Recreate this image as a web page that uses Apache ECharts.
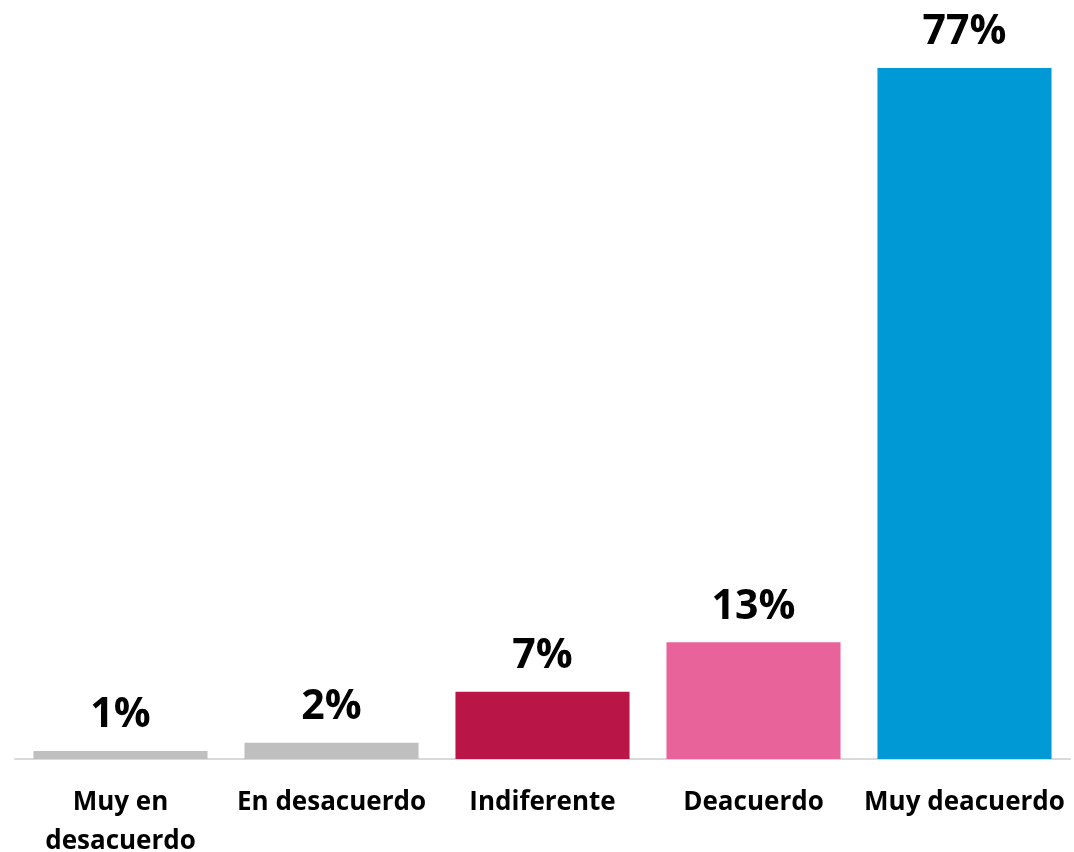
<!DOCTYPE html>
<html>
<head>
<meta charset="utf-8">
<script src="https://cdn.jsdelivr.net/npm/echarts@6/dist/echarts.min.js"></script>
<style>
  html, body { margin: 0; padding: 0; background: #fff; }
  #chart { width: 1074px; height: 852px; }
</style>
</head>
<body>
<div id="chart"></div>
<script>
// categories and values
const categories = ['Muy en\ndesacuerdo', 'En desacuerdo', 'Indiferente', 'Deacuerdo', 'Muy deacuerdo'];
const values = [0.9, 1.8, 7.5, 13, 77];
const valueLabels = ['1%', '2%', '7%', '13%', '77%'];
const barColors = ['#BFBFBF', '#BFBFBF', '#B91547', '#E9639B', '#0099D5'];

const chart = echarts.init(document.getElementById('chart'));

const option = {
  backgroundColor: '#ffffff',
  animation: false,
  grid: {
    left: 15,
    right: 4,
    top: 68,
    bottom: 93,
    containLabel: false,
    outerBoundsMode: 'none'
  },
  xAxis: {
    type: 'category',
    data: categories,
    axisLine: { lineStyle: { color: '#D9D9D9', width: 2 } },
    axisTick: { show: false },
    axisLabel: {
      interval: 0,
      margin: 24,
      color: '#000',
      fontFamily: 'Open Sans',
      fontWeight: 'bold',
      fontSize: 26,
      lineHeight: 39
    }
  },
  yAxis: {
    type: 'value',
    min: 0,
    max: 77,
    show: false,
    splitLine: { show: false }
  },
  series: [
    {
      type: 'bar',
      barCategoryGap: '17.5%',
      data: values.map((v, i) => ({
        value: v,
        itemStyle: { color: barColors[i] }
      })),
      label: {
        show: true,
        position: 'top',
        distance: 15,
        color: '#000',
        fontFamily: 'Open Sans',
        fontWeight: 'bold',
        fontSize: 41,
        formatter: p => valueLabels[p.dataIndex]
      }
    }
  ]
};

chart.setOption(option);
</script>
</body>
</html>
